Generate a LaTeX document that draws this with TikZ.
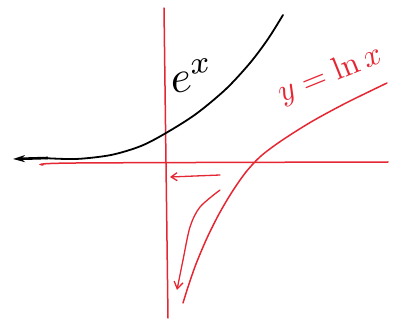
\documentclass[tikz,border=0pt]{standalone}
\usepackage{amsmath}
\usetikzlibrary{arrows.meta}
\definecolor{penred}{rgb}{.9,.15,.2}

\begin{document}
\begin{tikzpicture}[x=1pt,y=1pt,
    pen/.style={line width=1.5pt,line cap=round},
    redpen/.style={pen,color=penred}]
\useasboundingbox (-166,-162) rectangle (236,162);

\draw[redpen] (-2,154) -- (2,-156);
\draw[redpen] plot[smooth] coordinates {(-123,-3) (-90,-1) (222,0)};

\draw[pen,color=black,line width=1.8pt] plot[smooth] coordinates {(-123,4) (-90,3) (-55,7) (-25,16) (0,29) (30,48) (60,73) (84,99) (102,123) (117,147)};
\draw[-{Stealth[length=12pt,width=7pt]},line width=2.6pt] (-118,4) -- (-153,3);

\draw[redpen] plot[smooth] coordinates {(221,79) (180,59) (145,40) (115,21) (95,6) (80,-10) (66,-30) (53,-52) (41,-76) (30,-102) (22,-125) (17,-141)};
\draw[redpen,line width=1.3pt,-{Straight Barb[length=7pt,width=9pt]}] plot[smooth] coordinates {(54,-28) (34,-45) (24,-65) (17,-98) (11,-128)};
\draw[redpen,line width=1.3pt,-{Straight Barb[length=6pt,width=8pt]}] (54,-13) -- (4,-15);

\node[rotate=8,scale=4.5] (ex) at (26,86) {$e^x$};
\node[color=penred,rotate=22,scale=3.2] (lnx) at (164,87) {$y=\ln x$};

\end{tikzpicture}
\end{document}
